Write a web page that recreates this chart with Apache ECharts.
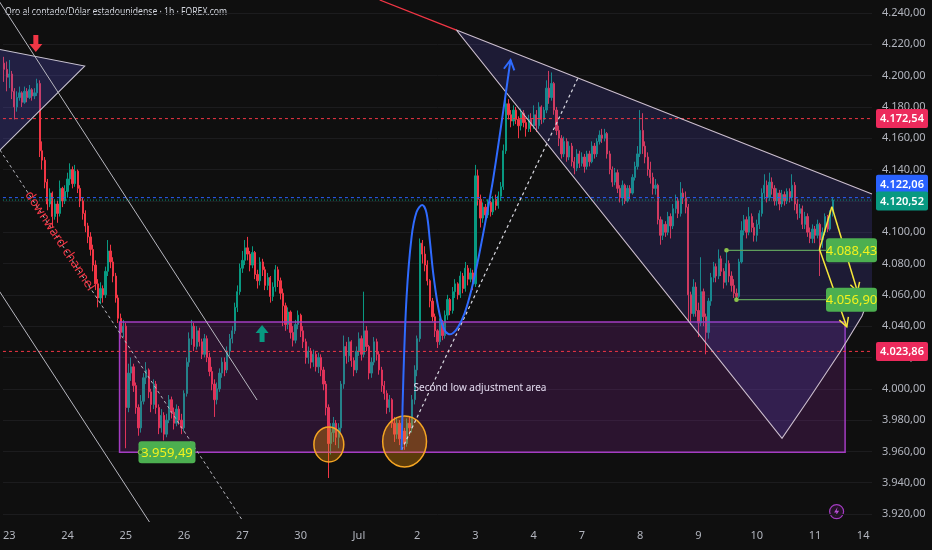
<!DOCTYPE html>
<html><head><meta charset="utf-8">
<script src="https://cdn.jsdelivr.net/npm/echarts@6/dist/echarts.min.js"></script>
<style>html,body{margin:0;padding:0;background:#0f0f0f}#c{width:932px;height:550px}</style>
</head><body><div id="c"></div>
<script>
// ---------- axis / time data ----------
const dayLabels = ['23','24','25','26','27','30','Jul','2','3','4','7','8','9','10','11','14'];
const dayBars   = [23,23,23,23,23,23,23,23,23,19,23,23,23,23,19,4];
const preBars = 2;
const yMin = 3920, yMax = 4240, yStep = 20;

// ---------- price data (1h bars) ----------
const firstOpen = 4208;
const close = [
 4204,4199,
 4201,4190,4180,4186,4189,4183,4190,4186,4191,4187,4189,4195,4152,4146,4132,4118,4125,4110,4118,4112,4128,4120,4126,
 4134,4140,4131,4139,4128,4120,4112,4104,4097,4089,4079,4067,4058,4064,4060,4075,4088,4081,4072,4058,4045,4036,4040,
 3988,4010,4014,4002,3988,3975,3992,4007,4012,3998,3990,4003,3988,3975,3983,3971,3980,3993,3985,3978,3987,3980,3975,
 3997,4017,4032,4040,4027,4037,4030,4022,4032,4020,4011,4003,3993,4000,4010,4017,4012,4024,4032,4037,4052,4062,4077,
 4082,4090,4086,4079,4087,4073,4069,4081,4076,4066,4071,4059,4065,4076,4069,4061,4053,4041,4049,4036,4031,4041,4047,
 4037,4030,4020,4024,4017,4022,4014,4020,4012,4003,3988,3965,3972,3978,3969,3975,4003,4027,4021,4030,4018,4012,4024,
 4032,4022,4037,4027,4010,4017,4030,4022,4012,4002,3997,3988,3993,3978,3971,3978,3968,3973,3965,3978,3975,3993,4012,
 4032,4093,4086,4079,4069,4056,4046,4037,4030,4042,4034,4047,4057,4050,4062,4067,4060,4072,4064,4077,4070,4074,4067,
 4136,4121,4109,4116,4111,4119,4113,4121,4117,4123,4129,4152,4182,4175,4171,4178,4172,4168,4176,4170,4166,4172,4168,
 4175,4168,4180,4172,4178,4192,4186,4195,4178,4165,4160,4150,4158,4148,4155,4145,4141,4150,4144,
 4148,4142,4150,4145,4155,4150,4158,4162,4160,4163,4150,4140,4132,4138,4128,4122,4130,4120,4128,4125,4135,4142,4150,
 4165,4155,4148,4140,4135,4128,4130,4108,4098,4105,4100,4110,4104,4115,4120,4112,4125,4122,4116,4060,4048,4065,4050,
 4042,4062,4046,4036,4056,4071,4078,4072,4083,4075,4068,4080,4072,4066,4061,4059,4081,4101,4108,4100,4110,4103,4098,
 4105,4112,4125,4130,4122,4132,4128,4120,4125,4118,4124,4120,4126,4122,4130,4118,4112,4115,4105,4110,4100,4096,4102,
 4098,4105,4095,4100,4110,4102,4112,4120.52
];
const high = [
 4212,4209,
 4210,4203,4192,4190,4193,4190,4193,4192,4194,4192,4192,4198,4197,4158,4148,4134,4128,4126,4121,4120,4133,4129,4130,
 4138,4144,4142,4143,4140,4130,4122,4114,4106,4100,4092,4082,4070,4068,4066,4078,4095,4092,4084,4074,4060,4048,4044,
 4042,4016,4020,4016,4004,3990,3996,4010,4017,4013,4000,4006,4005,3990,3987,3985,3984,3996,3995,3988,3990,3989,3984,
 3999,4020,4036,4044,4042,4040,4039,4032,4035,4034,4023,4014,4006,4004,4013,4020,4020,4027,4035,4040,4055,4066,4080,
 4088,4095,4097,4088,4091,4088,4076,4084,4083,4078,4074,4072,4068,4079,4078,4071,4064,4055,4052,4050,4040,4044,4050,
 4048,4040,4032,4027,4026,4025,4024,4023,4022,4014,4005,3990,3978,3982,3980,3978,4005,4034,4030,4033,4031,4020,4027,
 4036,4034,4062,4040,4028,4020,4033,4032,4024,4014,4005,3999,3996,3994,3982,3982,3980,3977,3975,3981,3982,3996,4015,
 4034,4096,4095,4091,4082,4070,4058,4048,4038,4045,4044,4050,4060,4058,4065,4070,4068,4075,4074,4081,4079,4077,4076,
 4143,4140,4124,4119,4118,4121,4120,4123,4124,4126,4132,4156,4186,4185,4178,4181,4180,4174,4179,4178,4172,4175,4176,
 4181,4178,4183,4181,4180,4197,4203,4202,4196,4180,4168,4162,4161,4160,4158,4157,4148,4153,4152,
 4151,4150,4152,4152,4158,4157,4160,4165,4166,4166,4164,4152,4142,4141,4140,4130,4133,4131,4130,4130,4137,4145,4155,
 4178,4176,4158,4151,4145,4138,4134,4131,4110,4108,4107,4113,4112,4118,4124,4122,4132,4128,4126,4118,4062,4070,4068,
 4055,4084,4064,4048,4058,4074,4081,4080,4089,4085,4077,4088,4082,4075,4070,4064,4083,4107,4111,4110,4116,4112,4106,
 4108,4114,4128,4137,4133,4138,4135,4130,4128,4127,4127,4126,4128,4128,4137,4132,4121,4118,4117,4113,4112,4103,4105,
 4104,4108,4106,4103,4112,4111,4114,4122
];
const low = [
 4196,4190,
 4192,4185,4172,4177,4184,4180,4182,4183,4185,4184,4185,4187,4148,4140,4128,4114,4116,4103,4108,4106,4110,4116,4118,
 4122,4130,4128,4129,4125,4116,4108,4100,4093,4085,4075,4063,4052,4054,4055,4058,4072,4077,4068,4055,4042,4032,4033,
 3962,3985,4005,3998,3984,3970,3972,3990,4003,3994,3985,3987,3984,3971,3972,3967,3969,3978,3981,3974,3976,3977,3971,
 3973,3995,4014,4028,4024,4025,4027,4019,4020,4017,4008,3999,3982,3990,3998,4007,4008,4010,4021,4029,4035,4049,4060,
 4074,4079,4082,4075,4077,4070,4064,4066,4072,4063,4063,4055,4056,4062,4065,4057,4040,4037,4038,4032,4027,4029,4038,
 4033,4026,4016,4016,4013,4014,4011,4010,4008,3999,3983,3943,3958,3966,3964,3962,3972,4000,4016,4017,4014,4008,4010,
 4021,4018,4020,4024,4006,4007,4015,4018,4009,3998,3993,3984,3985,3975,3966,3968,3964,3961,3961,3963,3970,3972,3990,
 4008,4030,4080,4075,4066,4052,4043,4033,4026,4028,4031,4032,4044,4047,4048,4058,4057,4058,4061,4062,4066,4068,4063,
 4065,4117,4103,4106,4108,4109,4110,4111,4114,4115,4120,4127,4150,4172,4167,4168,4169,4160,4165,4167,4161,4164,4164,
 4166,4164,4166,4169,4170,4176,4182,4184,4175,4162,4155,4147,4148,4145,4146,4142,4137,4139,4141,
 4142,4138,4140,4142,4144,4147,4148,4156,4157,4158,4147,4137,4129,4130,4125,4119,4117,4118,4119,4121,4124,4133,4140,
 4148,4150,4144,4136,4131,4124,4124,4105,4092,4095,4097,4098,4096,4102,4112,4109,4110,4118,4112,4043,4041,4046,4046,
 4033,4040,4040,4022,4032,4053,4068,4068,4070,4072,4064,4066,4068,4062,4058,4056,4058,4080,4098,4096,4098,4100,4094,
 4094,4102,4110,4121,4119,4120,4124,4117,4117,4114,4116,4117,4118,4119,4120,4114,4108,4109,4102,4102,4097,4093,4093,
 4093,4096,4072,4090,4098,4100,4101,4110
];

// ---------- price levels / drawings (anchors: [bar index, price]) ----------
const priceLevels = [4172.54, 4122.06, 4120.52, 4023.86];
const zoneRect    = [[45.52, 4042.6], [331.88, 3959.49]];
const zoneLowTag  = [53.78, 3959.49];
const rayLevels   = [[285.07, 4088.43], [289.0, 4056.90]];
const triLeft     = [[-4.43, 4217.6], [31.75, 4206.1], [-4.43, 4148.0]];
const triRight    = [[178.47, 4229.1], [342.5, 4124.4], [342.5, 4063.1], [338.57, 4046.5], [329.91, 4023.5], [318.11, 3994.7], [306.98, 3968.4]];
const triRightEdge= [[342.5, 4124.4], [178.47, 4229.1], [306.98, 3968.4], [318.11, 3994.7], [329.91, 4023.5], [338.57, 4046.5], [342.5, 4063.1]];
const redExt      = [[148.18, 4248.3], [178.47, 4229.1]];
const channelA    = [[-2.07, 4247.7], [99.8, 3992.8]];
const channelB    = [[-2.47, 4063.7], [57.32, 3914.9]];
const channelMid  = [[-1.68, 4152.5], [93.9, 3916.2]];
const riseDash    = [[156.84, 3960.9], [226.46, 4198.5]];
const blueCurve   = [[156.84,3960.9],[157.51,4005.6],[158.80,4058.6],[160.77,4096.9],[162.74,4112.9],[164.98,4117.4],
                     [166.67,4112.3],[167.97,4095.0],[169.31,4073.9],[171.27,4052.2],[173.24,4039.4],[175.21,4035.0],
                     [177.18,4035.6],[179.14,4039.4],[181.74,4048.4],[184.37,4063.1],[187.01,4082.2],[190.27,4109.7],
                     [192.91,4133.3],[196.17,4168.5],[199.83,4210.0]];
const circles     = [[128.12, 3964.4, 5.9, 11.18], [158.02, 3966.3, 8.65, 16.3]];
const yellowA     = [[326.65, 4116.3], [336.79, 4062.0]];
const yellowB     = [[326.65, 4116.3], [321.77, 4089.1], [332.55, 4039.6]];
const downArrowAt = [12.48, 4215.1];
const upArrowAt   = [101.77, 4040.7];
const channelText = [21.92, 4094.4];
const areaText    = [161.56, 4000.5];

// ---------- build ----------
const cats = [];
for (let i = 0; i < preBars; i++) cats.push('');
dayLabels.forEach((d, k) => { for (let j = 0; j < dayBars[k]; j++) cats.push(j === 0 ? d : ''); });
const W = cats.length;
const ohlc = close.map((c, i) => {
  const o = i === 0 ? firstOpen : close[i - 1];
  return [o, c, Math.min(low[i], o, c), Math.max(high[i], o, c)];
});
function fmt(v) {
  const s = Number(v).toFixed(2).split('.');
  return s[0].replace(/\B(?=(\d{3})+(?!\d))/g, '.') + ',' + s[1];
}
const FONT = 'Noto Sans';
function head(a, b, len, color, lw) {
  const ang = Math.atan2(b[1] - a[1], b[0] - a[0]), s = 0.5;
  return {type: 'polyline', shape: {points: [
    [b[0] - len * Math.cos(ang - s), b[1] - len * Math.sin(ang - s)], b,
    [b[0] - len * Math.cos(ang + s), b[1] - len * Math.sin(ang + s)]]},
    style: {stroke: color, lineWidth: lw, fill: null}};
}
function layer(z, build) {
  return {type: 'custom', xAxisIndex: 1, yAxisIndex: 0, z: z, clip: false, silent: true,
    data: [[0, 4000]], renderItem: (params, api) => ({type: 'group', children: build(api)})};
}
const C = (api, p) => api.coord(p);
const line = (api, pts, stroke, lw, dash, smooth) => ({type: 'polyline',
  shape: {points: pts.map(p => C(api, p)), smooth: smooth || 0},
  style: {stroke: stroke, lineWidth: lw, lineDash: dash || null, fill: null}});

const fills = layer(3, api => {
  const r0 = C(api, zoneRect[0]), r1 = C(api, zoneRect[1]);
  const out = [
    {type: 'rect', shape: {x: r0[0], y: r0[1], width: r1[0] - r0[0], height: r1[1] - r0[1]},
      style: {fill: 'rgba(156,39,176,0.20)', stroke: '#a43cc2', lineWidth: 1.5}},
    {type: 'polygon', shape: {points: triLeft.map(p => C(api, p))}, style: {fill: 'rgba(85,80,205,0.28)'}},
    {type: 'polygon', shape: {points: triRight.map(p => C(api, p))}, style: {fill: 'rgba(85,75,200,0.21)'}}
  ];
  circles.forEach(c => {
    const p = C(api, [c[0], c[1]]), s = api.size([c[2], c[3]]);
    out.push({type: 'ellipse', shape: {cx: p[0], cy: p[1], rx: s[0], ry: s[1]},
      style: {fill: 'rgba(255,152,0,0.32)', stroke: '#f5a623', lineWidth: 1.5}});
  });
  return out;
});

const lines = layer(5, api => {
  const out = [];
  priceLevels.forEach((v, i) => {
    const col = ['#f23645', '#2962ff', '#089981', '#f23645'][i];
    const dash = i === 2 ? [1, 2] : [3, 3];
    out.push(line(api, [[-0.5, v], [W - 0.5, v]], col, 1, dash));
  });
  out.push(line(api, triLeft.slice(0, 3), '#c9c3d2', 1.1));
  out.push(line(api, triRightEdge, '#cdbfcf', 1.1));
  out.push(line(api, redExt, '#f23645', 1.3));
  out.push(line(api, channelA, '#b8b8c0', 1));
  out.push(line(api, channelB, '#b8b8c0', 1));
  out.push(line(api, channelMid, '#b8b8c0', 1, [3, 3]));
  out.push(line(api, riseDash, '#d8d8e0', 1.2, [3, 3]));
  rayLevels.forEach(r => {
    out.push(line(api, [r, [W - 0.5, r[1]]], '#5f9e5c', 1.2));
    const p = C(api, r);
    out.push({type: 'circle', shape: {cx: p[0], cy: p[1], r: 2.3}, style: {fill: '#8bc34a'}});
  });
  out.push(line(api, blueCurve, '#2f6bff', 2, null, 0.35));
  const n = blueCurve.length;
  out.push(head(C(api, blueCurve[n - 3]), C(api, blueCurve[n - 1]), 11, '#2f6bff', 2));
  out.push(line(api, yellowA, '#f5e73a', 1.5));
  out.push(head(C(api, yellowA[0]), C(api, yellowA[1]), 10, '#f5e73a', 1.5));
  out.push(line(api, yellowB, '#f5e73a', 1.5));
  out.push(head(C(api, yellowB[1]), C(api, yellowB[2]), 10, '#f5e73a', 1.5));
  return out;
});

const marks = layer(8, api => {
  const out = [];
  const d = C(api, downArrowAt), u = C(api, upArrowAt);
  out.push({type: 'polygon', shape: {points: [[d[0]-2.5,d[1]-17],[d[0]+2.5,d[1]-17],[d[0]+2.5,d[1]-8],[d[0]+6.5,d[1]-8],[d[0],d[1]],[d[0]-6.5,d[1]-8],[d[0]-2.5,d[1]-8]]}, style: {fill: '#f23645'}});
  out.push({type: 'polygon', shape: {points: [[u[0]-2.5,u[1]+17],[u[0]+2.5,u[1]+17],[u[0]+2.5,u[1]+8],[u[0]+6.5,u[1]+8],[u[0],u[1]],[u[0]-6.5,u[1]+8],[u[0]-2.5,u[1]+8]]}, style: {fill: '#089981'}});
  const t1 = C(api, channelText);
  out.push({type: 'text', x: t1[0], y: t1[1], rotation: -Math.atan(1.52),
    style: {text: 'downward channel', fill: '#f23645', font: '13px ' + FONT, align: 'center', verticalAlign: 'middle'}});
  const t2 = C(api, areaText);
  out.push({type: 'text', x: t2[0], y: t2[1],
    style: {text: 'Second low adjustment area', fill: '#e2daee', font: '10px ' + FONT, align: 'left', verticalAlign: 'middle'}});
  const z = C(api, zoneLowTag);
  out.push({type: 'rect', shape: {x: z[0] - 2, y: z[1] - 11, width: 57, height: 22, r: 3}, style: {fill: '#4caf50'}});
  out.push({type: 'circle', shape: {cx: z[0], cy: z[1], r: 2.3}, style: {fill: '#2e7d32', stroke: '#8bc34a', lineWidth: 1}});
  out.push({type: 'text', x: z[0] + 26.5, y: z[1] + 1, style: {text: fmt(zoneLowTag[1]), fill: '#f2f21e', font: '13px ' + FONT, align: 'center', verticalAlign: 'middle'}});
  rayLevels.forEach(r => {
    const p = C(api, [W - 0.5, r[1]]);
    out.push({type: 'rect', shape: {x: p[0] - 46, y: p[1] - 12, width: 51, height: 24, r: 3}, style: {fill: '#4caf50'}});
    out.push({type: 'text', x: p[0] - 20.5, y: p[1] + 1, style: {text: fmt(r[1]), fill: '#f2f21e', font: '13px ' + FONT, align: 'center', verticalAlign: 'middle'}});
  });
  const cols = ['#ec2a5c', '#2962ff', '#089981', '#ec2a5c'], dys = [0, -13.5, 1, 0];
  priceLevels.forEach((v, i) => {
    const p = C(api, [W - 0.5, v]);
    const x = p[0] + 4, y = p[1] + dys[i];
    out.push({type: 'rect', shape: {x: x, y: y - 9.5, width: 52, height: 19, r: 2}, style: {fill: cols[i]}});
    out.push({type: 'text', x: x + 26, y: y + 0.5, style: {text: fmt(v), fill: '#ffffff', font: '600 11px ' + FONT, align: 'center', verticalAlign: 'middle'}});
  });
  return out;
});

const chart = echarts.init(document.getElementById('c'), null, {renderer: 'canvas'});
chart.setOption({
  backgroundColor: '#0f0f0f',
  animation: false,
  grid: {left: 0, right: 60, top: 13, bottom: 36},
  xAxis: [
    {type: 'category', data: cats, boundaryGap: true, axisLine: {show: false}, axisTick: {show: false},
      axisLabel: {interval: 0, color: '#b2b5be', fontSize: 11, fontFamily: FONT, margin: 16}, splitLine: {show: false}},
    {type: 'value', min: -0.5, max: W - 0.5, show: false}
  ],
  yAxis: {type: 'value', position: 'right', min: yMin, max: yMax, interval: yStep,
    axisLine: {show: false}, axisTick: {show: false},
    axisLabel: {color: '#b2b5be', fontSize: 11, fontFamily: FONT, margin: 10, formatter: fmt},
    splitLine: {lineStyle: {color: '#1c1c1e', width: 1}}},
  graphic: [
    {type: 'text', left: 5, top: 7, scaleX: 0.82, style: {text: 'Oro al contado/Dólar estadounidense · 1h · FOREX.com', fill: '#d1d4dc', font: '10.5px ' + FONT}},
    {type: 'group', left: 829, top: 504, children: [
      {type: 'circle', shape: {cx: 7, cy: 7, r: 7}, style: {fill: 'rgba(156,39,176,0.15)', stroke: '#a43cc2', lineWidth: 1.2}},
      {type: 'polygon', shape: {points: [[8,2.5],[4.5,7.8],[7,7.8],[6,11.5],[9.5,6.2],[7,6.2]]}, style: {fill: '#b84fd6'}}
    ]}
  ],
  series: [
    {type: 'candlestick', data: ohlc, barWidth: '70%', z: 2,
      itemStyle: {color: '#089981', color0: '#f23645', borderColor: '#089981', borderColor0: '#f23645', borderWidth: 1}},
    fills, lines, marks
  ]
});
</script></body></html>
